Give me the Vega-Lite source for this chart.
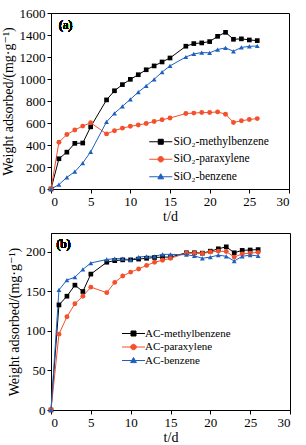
{
  "$schema": "https://vega.github.io/schema/vega-lite/v6.json",
  "padding": {"left": 0, "top": 6, "right": 4, "bottom": 4},
  "config": {
    "font": "Times New Roman, Liberation Serif, Tinos, DejaVu Serif, serif",
    "view": {"stroke": "#000", "strokeWidth": 1},
    "axis": {"labelFont": "Times New Roman, Liberation Serif, Tinos, DejaVu Serif, serif", "titleFont": "Times New Roman, Liberation Serif, Tinos, DejaVu Serif, serif", "labelFontSize": 13, "titleFontSize": 14, "titleFontWeight": "normal", "labelColor": "#000", "titleColor": "#000", "domainColor": "#000", "tickColor": "#000", "grid": false, "tickSize": 4},
    "legend": {"labelFont": "Times New Roman, Liberation Serif, Tinos, DejaVu Serif, serif", "labelColor": "#000"},
    "text": {"font": "Times New Roman, Liberation Serif, Tinos, DejaVu Serif, serif"}
  },
  "datasets": {
    "a": [
      {"t":0,"w":0,"s":"SiO₂-methylbenzene"},{"t":1,"w":275,"s":"SiO₂-methylbenzene"},{"t":2,"w":335,"s":"SiO₂-methylbenzene"},{"t":3,"w":415,"s":"SiO₂-methylbenzene"},{"t":4,"w":418,"s":"SiO₂-methylbenzene"},{"t":5,"w":565,"s":"SiO₂-methylbenzene"},{"t":7,"w":810,"s":"SiO₂-methylbenzene"},{"t":8,"w":893,"s":"SiO₂-methylbenzene"},{"t":9,"w":949,"s":"SiO₂-methylbenzene"},{"t":10,"w":997,"s":"SiO₂-methylbenzene"},{"t":11,"w":1039,"s":"SiO₂-methylbenzene"},{"t":12,"w":1084,"s":"SiO₂-methylbenzene"},{"t":13,"w":1119,"s":"SiO₂-methylbenzene"},{"t":14,"w":1155,"s":"SiO₂-methylbenzene"},{"t":15,"w":1191,"s":"SiO₂-methylbenzene"},{"t":17,"w":1298,"s":"SiO₂-methylbenzene"},{"t":18,"w":1322,"s":"SiO₂-methylbenzene"},{"t":19,"w":1328,"s":"SiO₂-methylbenzene"},{"t":20,"w":1340,"s":"SiO₂-methylbenzene"},{"t":21,"w":1388,"s":"SiO₂-methylbenzene"},{"t":22,"w":1424,"s":"SiO₂-methylbenzene"},{"t":23,"w":1361,"s":"SiO₂-methylbenzene"},{"t":24,"w":1365,"s":"SiO₂-methylbenzene"},{"t":25,"w":1355,"s":"SiO₂-methylbenzene"},{"t":26,"w":1349,"s":"SiO₂-methylbenzene"},
      {"t":0,"w":0,"s":"SiO₂-paraxylene"},{"t":1,"w":425,"s":"SiO₂-paraxylene"},{"t":2,"w":495,"s":"SiO₂-paraxylene"},{"t":3,"w":537,"s":"SiO₂-paraxylene"},{"t":4,"w":572,"s":"SiO₂-paraxylene"},{"t":5,"w":602,"s":"SiO₂-paraxylene"},{"t":7,"w":501,"s":"SiO₂-paraxylene"},{"t":8,"w":530,"s":"SiO₂-paraxylene"},{"t":9,"w":553,"s":"SiO₂-paraxylene"},{"t":10,"w":570,"s":"SiO₂-paraxylene"},{"t":11,"w":582,"s":"SiO₂-paraxylene"},{"t":12,"w":595,"s":"SiO₂-paraxylene"},{"t":13,"w":613,"s":"SiO₂-paraxylene"},{"t":14,"w":630,"s":"SiO₂-paraxylene"},{"t":15,"w":645,"s":"SiO₂-paraxylene"},{"t":17,"w":686,"s":"SiO₂-paraxylene"},{"t":18,"w":690,"s":"SiO₂-paraxylene"},{"t":19,"w":695,"s":"SiO₂-paraxylene"},{"t":20,"w":695,"s":"SiO₂-paraxylene"},{"t":21,"w":701,"s":"SiO₂-paraxylene"},{"t":22,"w":680,"s":"SiO₂-paraxylene"},{"t":23,"w":605,"s":"SiO₂-paraxylene"},{"t":24,"w":620,"s":"SiO₂-paraxylene"},{"t":25,"w":632,"s":"SiO₂-paraxylene"},{"t":26,"w":640,"s":"SiO₂-paraxylene"},
      {"t":0,"w":0,"s":"SiO₂-benzene"},{"t":1,"w":40,"s":"SiO₂-benzene"},{"t":2,"w":106,"s":"SiO₂-benzene"},{"t":3,"w":157,"s":"SiO₂-benzene"},{"t":4,"w":236,"s":"SiO₂-benzene"},{"t":5,"w":338,"s":"SiO₂-benzene"},{"t":7,"w":610,"s":"SiO₂-benzene"},{"t":8,"w":688,"s":"SiO₂-benzene"},{"t":9,"w":752,"s":"SiO₂-benzene"},{"t":10,"w":815,"s":"SiO₂-benzene"},{"t":11,"w":881,"s":"SiO₂-benzene"},{"t":12,"w":937,"s":"SiO₂-benzene"},{"t":13,"w":997,"s":"SiO₂-benzene"},{"t":14,"w":1063,"s":"SiO₂-benzene"},{"t":15,"w":1119,"s":"SiO₂-benzene"},{"t":17,"w":1200,"s":"SiO₂-benzene"},{"t":18,"w":1228,"s":"SiO₂-benzene"},{"t":19,"w":1240,"s":"SiO₂-benzene"},{"t":20,"w":1238,"s":"SiO₂-benzene"},{"t":21,"w":1268,"s":"SiO₂-benzene"},{"t":22,"w":1283,"s":"SiO₂-benzene"},{"t":23,"w":1252,"s":"SiO₂-benzene"},{"t":24,"w":1287,"s":"SiO₂-benzene"},{"t":25,"w":1297,"s":"SiO₂-benzene"},{"t":26,"w":1300,"s":"SiO₂-benzene"}
    ],
    "b": [
      {"t":0,"w":0,"s":"AC-methylbenzene"},{"t":1,"w":133,"s":"AC-methylbenzene"},{"t":2,"w":144,"s":"AC-methylbenzene"},{"t":3,"w":158,"s":"AC-methylbenzene"},{"t":4,"w":150,"s":"AC-methylbenzene"},{"t":5,"w":172,"s":"AC-methylbenzene"},{"t":7,"w":187,"s":"AC-methylbenzene"},{"t":8,"w":189,"s":"AC-methylbenzene"},{"t":9,"w":190,"s":"AC-methylbenzene"},{"t":10,"w":190,"s":"AC-methylbenzene"},{"t":11,"w":191,"s":"AC-methylbenzene"},{"t":12,"w":192,"s":"AC-methylbenzene"},{"t":13,"w":193,"s":"AC-methylbenzene"},{"t":14,"w":193.5,"s":"AC-methylbenzene"},{"t":15,"w":193.5,"s":"AC-methylbenzene"},{"t":17,"w":199,"s":"AC-methylbenzene"},{"t":18,"w":199,"s":"AC-methylbenzene"},{"t":19,"w":198.5,"s":"AC-methylbenzene"},{"t":20,"w":201,"s":"AC-methylbenzene"},{"t":21,"w":204,"s":"AC-methylbenzene"},{"t":22,"w":206.5,"s":"AC-methylbenzene"},{"t":23,"w":199,"s":"AC-methylbenzene"},{"t":24,"w":202,"s":"AC-methylbenzene"},{"t":25,"w":202.5,"s":"AC-methylbenzene"},{"t":26,"w":203,"s":"AC-methylbenzene"},
      {"t":0,"w":0,"s":"AC-paraxylene"},{"t":1,"w":96,"s":"AC-paraxylene"},{"t":2,"w":118,"s":"AC-paraxylene"},{"t":3,"w":134.5,"s":"AC-paraxylene"},{"t":4,"w":144,"s":"AC-paraxylene"},{"t":5,"w":155.5,"s":"AC-paraxylene"},{"t":7,"w":148.5,"s":"AC-paraxylene"},{"t":8,"w":161.5,"s":"AC-paraxylene"},{"t":9,"w":169.5,"s":"AC-paraxylene"},{"t":10,"w":174.5,"s":"AC-paraxylene"},{"t":11,"w":178.5,"s":"AC-paraxylene"},{"t":12,"w":183,"s":"AC-paraxylene"},{"t":13,"w":187,"s":"AC-paraxylene"},{"t":14,"w":189.5,"s":"AC-paraxylene"},{"t":15,"w":192,"s":"AC-paraxylene"},{"t":17,"w":198.5,"s":"AC-paraxylene"},{"t":18,"w":198.5,"s":"AC-paraxylene"},{"t":19,"w":198,"s":"AC-paraxylene"},{"t":20,"w":200,"s":"AC-paraxylene"},{"t":21,"w":201,"s":"AC-paraxylene"},{"t":22,"w":200.5,"s":"AC-paraxylene"},{"t":23,"w":193.5,"s":"AC-paraxylene"},{"t":24,"w":197.5,"s":"AC-paraxylene"},{"t":25,"w":198.5,"s":"AC-paraxylene"},{"t":26,"w":199.5,"s":"AC-paraxylene"},
      {"t":0,"w":0,"s":"AC-benzene"},{"t":1,"w":152,"s":"AC-benzene"},{"t":2,"w":164.5,"s":"AC-benzene"},{"t":3,"w":168,"s":"AC-benzene"},{"t":4,"w":178,"s":"AC-benzene"},{"t":5,"w":186,"s":"AC-benzene"},{"t":7,"w":190.5,"s":"AC-benzene"},{"t":8,"w":191.5,"s":"AC-benzene"},{"t":9,"w":191.5,"s":"AC-benzene"},{"t":10,"w":190,"s":"AC-benzene"},{"t":11,"w":193.5,"s":"AC-benzene"},{"t":12,"w":194.5,"s":"AC-benzene"},{"t":13,"w":194.5,"s":"AC-benzene"},{"t":14,"w":197,"s":"AC-benzene"},{"t":15,"w":197,"s":"AC-benzene"},{"t":17,"w":196.5,"s":"AC-benzene"},{"t":18,"w":195,"s":"AC-benzene"},{"t":19,"w":192,"s":"AC-benzene"},{"t":20,"w":193.5,"s":"AC-benzene"},{"t":21,"w":196,"s":"AC-benzene"},{"t":22,"w":194.5,"s":"AC-benzene"},{"t":23,"w":188.5,"s":"AC-benzene"},{"t":24,"w":194.5,"s":"AC-benzene"},{"t":25,"w":196,"s":"AC-benzene"},{"t":26,"w":195,"s":"AC-benzene"}
    ]
  },
  "resolve": {"scale": {"color": "independent"}, "legend": {"color": "independent"}},
  "spacing": 8,
  "vconcat": [
    {
      "width": 238, "height": 176,
      "data": {"name": "a"},
      "encoding": {
        "x": {"field": "t", "type": "quantitative", "scale": {"domain": [0, 30], "nice": false}, "axis": {"values": [0,5,10,15,20,25,30], "title": "t/d", "titlePadding": 1, "labelPadding": 2}},
        "y": {"field": "w", "type": "quantitative", "scale": {"domain": [0, 1600], "nice": false}, "axis": {"values": [0,200,400,600,800,1000,1200,1400,1600], "format": "d", "title": "Weight adsorbed/(mg·g⁻¹)", "titlePadding": 4, "labelPadding": 2}}
      },
      "layer": [
        {"mark": {"type": "line", "strokeWidth": 1},
         "encoding": {"color": {"field": "s", "type": "nominal", "scale": {"domain": ["SiO₂-methylbenzene","SiO₂-paraxylene","SiO₂-benzene"], "range": ["#000000","#f4502c","#1f5fbf"]},
           "legend": {"orient": "none", "legendX": 104, "legendY": 123, "title": null, "symbolSize": 100, "labelFontSize": 11.5, "labelOffset": 7, "rowPadding": 4.5, "padding": 0, "symbolStrokeWidth": 1, "symbolOpacity": 1,
             "symbolType": {"expr": "indexof(datum.value,'methyl')>=0 ? 'M-2.3,0H2.3M-0.5,-0.5H0.5V0.5H-0.5Z' : indexof(datum.value,'para')>=0 ? 'M-2.3,0H2.3M0.55,0A0.55,0.55,0,1,1,-0.55,0A0.55,0.55,0,1,1,0.55,0Z' : 'M-2.3,0H2.3M0,-0.6L0.58,0.42H-0.58Z'"},
             "symbolFillColor": {"expr": "indexof(datum.value,'methyl')>=0 ? '#000000' : indexof(datum.value,'para')>=0 ? '#f4502c' : '#1f5fbf'"}}}}},
        {"transform": [{"filter": "indexof(datum.s,'methyl')>=0"}], "mark": {"type": "point", "filled": true, "opacity": 1, "shape": "square", "size": 22}, "encoding": {"color": {"field": "s", "type": "nominal", "legend": null}}},
        {"transform": [{"filter": "indexof(datum.s,'para')>=0"}], "mark": {"type": "point", "filled": true, "opacity": 1, "shape": "circle", "size": 24}, "encoding": {"color": {"field": "s", "type": "nominal", "legend": null}}},
        {"transform": [{"filter": "datum.s == 'SiO₂-benzene'"}], "mark": {"type": "point", "filled": true, "opacity": 1, "shape": "triangle-up", "size": 24}, "encoding": {"color": {"field": "s", "type": "nominal", "legend": null}}},
        {"mark": {"type": "text", "align": "left", "baseline": "middle", "fontSize": 12, "fontWeight": "normal"},
         "encoding": {"x": {"datum": 1}, "y": {"datum": 1495}, "text": {"value": "(a)"}}}
      ]
    },
    {
      "width": 239, "height": 177,
      "data": {"name": "b"},
      "encoding": {
        "x": {"field": "t", "type": "quantitative", "scale": {"domain": [0, 30], "nice": false}, "axis": {"values": [0,5,10,15,20,25,30], "title": "t/d", "titlePadding": 1, "labelPadding": 2}},
        "y": {"field": "w", "type": "quantitative", "scale": {"domain": [0, 224], "nice": false}, "axis": {"values": [0,50,100,150,200], "title": "Weight adsorbed/(mg·g⁻¹)", "titlePadding": 4, "labelPadding": 2}}
      },
      "layer": [
        {"mark": {"type": "line", "strokeWidth": 1},
         "encoding": {"color": {"field": "s", "type": "nominal", "scale": {"domain": ["AC-methylbenzene","AC-paraxylene","AC-benzene"], "range": ["#000000","#f4502c","#1f5fbf"]},
           "legend": {"orient": "none", "legendX": 77, "legendY": 95, "title": null, "symbolSize": 100, "labelFontSize": 11, "labelOffset": 6, "rowPadding": 1.5, "padding": 0, "symbolStrokeWidth": 1, "symbolOpacity": 1,
             "symbolType": {"expr": "indexof(datum.value,'methyl')>=0 ? 'M-2.3,0H2.3M-0.5,-0.5H0.5V0.5H-0.5Z' : indexof(datum.value,'para')>=0 ? 'M-2.3,0H2.3M0.55,0A0.55,0.55,0,1,1,-0.55,0A0.55,0.55,0,1,1,0.55,0Z' : 'M-2.3,0H2.3M0,-0.6L0.58,0.42H-0.58Z'"},
             "symbolFillColor": {"expr": "indexof(datum.value,'methyl')>=0 ? '#000000' : indexof(datum.value,'para')>=0 ? '#f4502c' : '#1f5fbf'"}}}}},
        {"transform": [{"filter": "indexof(datum.s,'methyl')>=0"}], "mark": {"type": "point", "filled": true, "opacity": 1, "shape": "square", "size": 22}, "encoding": {"color": {"field": "s", "type": "nominal", "legend": null}}},
        {"transform": [{"filter": "indexof(datum.s,'para')>=0"}], "mark": {"type": "point", "filled": true, "opacity": 1, "shape": "circle", "size": 24}, "encoding": {"color": {"field": "s", "type": "nominal", "legend": null}}},
        {"transform": [{"filter": "datum.s == 'AC-benzene'"}], "mark": {"type": "point", "filled": true, "opacity": 1, "shape": "triangle-up", "size": 24}, "encoding": {"color": {"field": "s", "type": "nominal", "legend": null}}},
        {"mark": {"type": "text", "align": "left", "baseline": "middle", "fontSize": 12, "fontWeight": "normal"},
         "encoding": {"x": {"datum": 0.7}, "y": {"datum": 210}, "text": {"value": "(b)"}}}
      ]
    }
  ]
}
